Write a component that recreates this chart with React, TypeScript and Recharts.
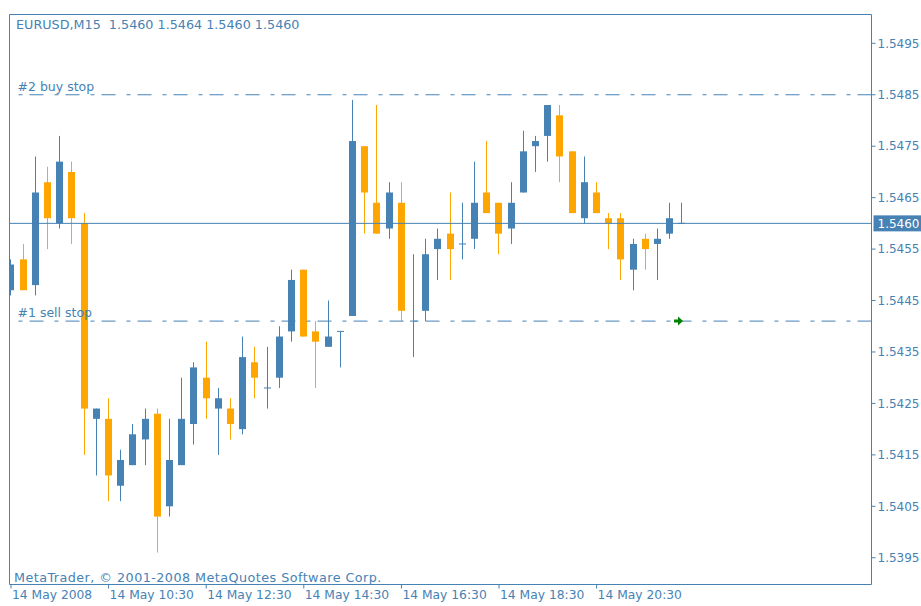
import React from 'react'
import {
  ComposedChart,
  Bar,
  XAxis,
  YAxis,
  ReferenceLine,
  ReferenceArea,
  ReferenceDot,
} from 'recharts'

const BLUE = '#4682B4'
const ORANGE = '#FFA500'
const FONT = '"DejaVu Sans", Verdana, sans-serif'

// EURUSD M15, 14 May 2008, 08:30 .. 22:15
const opens = [
  1.5447, 1.5453, 1.5448, 1.5468, 1.546, 1.547, 1.546, 1.5422, 1.5422, 1.5409,
  1.5413, 1.5418, 1.5423, 1.5405, 1.5413, 1.5421, 1.543, 1.5424, 1.5424, 1.542,
  1.5433, 1.5428, 1.543, 1.5439, 1.5451, 1.5439, 1.5436, 1.5439, 1.5442, 1.5475,
  1.5464, 1.5459, 1.5464, 1.5441, 1.5443, 1.5455, 1.5458, 1.5456, 1.5457, 1.5466,
  1.5464, 1.5459, 1.5466, 1.5475, 1.5477, 1.5481, 1.5474, 1.5461, 1.5466, 1.5461,
  1.5461, 1.5451, 1.5457, 1.5456, 1.5458, 1.546,
]
const highs = [
  1.5453, 1.5456, 1.5473, 1.5471, 1.5477, 1.5472, 1.5462, 1.5424, 1.5426, 1.5416,
  1.5421, 1.5424, 1.5424, 1.5422, 1.543, 1.5433, 1.5437, 1.5428, 1.5426, 1.5438,
  1.5436, 1.5436, 1.544, 1.5451, 1.5451, 1.5441, 1.5445, 1.5439, 1.5484, 1.5475,
  1.5483, 1.5468, 1.5468, 1.5454, 1.5457, 1.5459, 1.5466, 1.5464, 1.5472, 1.5476,
  1.5464, 1.5468, 1.5478, 1.5477, 1.5483, 1.5483, 1.5474, 1.5473, 1.5468, 1.5462,
  1.5462, 1.5457, 1.5458, 1.5459, 1.5464, 1.5464,
]
const lows = [
  1.5446, 1.5447, 1.5446, 1.5455, 1.5459, 1.5456, 1.5415, 1.5411, 1.5406, 1.5406,
  1.5413, 1.5413, 1.5396, 1.5403, 1.5413, 1.5417, 1.5422, 1.5415, 1.5418, 1.5419,
  1.5426, 1.5424, 1.5428, 1.5437, 1.5438, 1.5428, 1.5436, 1.5432, 1.5442, 1.5458,
  1.5458, 1.5457, 1.5441, 1.5434, 1.5441, 1.5449, 1.5449, 1.5453, 1.5455, 1.5462,
  1.5454, 1.5456, 1.5466, 1.547, 1.5472, 1.5468, 1.5462, 1.546, 1.5462, 1.5455,
  1.5449, 1.5447, 1.5451, 1.5449, 1.5457, 1.546,
]
const closes = [
  1.5452, 1.5447, 1.5466, 1.5461, 1.5472, 1.5461, 1.5424, 1.5424, 1.5411, 1.5414,
  1.5419, 1.5422, 1.5403, 1.5414, 1.5422, 1.5432, 1.5426, 1.5426, 1.5421, 1.5434,
  1.543, 1.5428, 1.5438, 1.5449, 1.5438, 1.5437, 1.5438, 1.5439, 1.5476, 1.5466,
  1.5458, 1.5466, 1.5443, 1.5441, 1.5454, 1.5457, 1.5455, 1.5456, 1.5464, 1.5462,
  1.5458, 1.5464, 1.5474, 1.5476, 1.5483, 1.5473, 1.5462, 1.5468, 1.5462, 1.546,
  1.5453, 1.5456, 1.5455, 1.5457, 1.5461, 1.546,
]

const timeTicks = [0, 8, 16, 24, 32, 40, 48]
const timeLabels = [
  '14 May 2008',
  '14 May 10:30',
  '14 May 12:30',
  '14 May 14:30',
  '14 May 16:30',
  '14 May 18:30',
  '14 May 20:30',
]
const priceTicks = [
  1.5395, 1.5405, 1.5415, 1.5425, 1.5435, 1.5445, 1.5455, 1.5465, 1.5475, 1.5485, 1.5495,
]

const currentPrice = 1.546
const buyStop = 1.5485
const sellStop = 1.5441
const lastBar = 55

const xDomain: [number, number] = [-0.123, 70.53]
const yDomain: [number, number] = [1.53898, 1.55006]

const data = opens.map((o, i) => ({
  i,
  open: o,
  high: highs[i],
  low: lows[i],
  close: closes[i],
  range: [lows[i], highs[i]],
}))

function Candle(props: any) {
  const { x, y, width, height, payload } = props
  if (x == null || payload == null) return null
  const top = Math.min(y, y + height)
  const h = Math.abs(height)
  const { open, close, high, low } = payload
  const py = (p: number) => top + ((high - p) / (high - low)) * h
  const cx = Math.floor(x + width / 2) + 0.5
  const color = close >= open ? BLUE : ORANGE
  const bTop = py(Math.max(open, close))
  const bBot = py(Math.min(open, close))
  return (
    <g>
      <line x1={cx} x2={cx} y1={top} y2={top + h} stroke={color} strokeWidth={1} />
      {bBot - bTop < 1 ? (
        <line x1={cx - 3.5} x2={cx + 3.5} y1={bTop} y2={bTop} stroke={color} strokeWidth={1} />
      ) : (
        <rect x={cx - 3.5} y={bTop} width={7} height={bBot - bTop} fill={color} />
      )}
    </g>
  )
}

function TimeTick(props: any) {
  const { x, y, payload } = props
  const idx = timeTicks.indexOf(payload.value)
  return (
    <text x={x + 1} y={y + 8} fill={BLUE} fontSize={12.3} fontFamily={FONT} textAnchor="start">
      {timeLabels[idx]}
    </text>
  )
}

const stopLabel = (text: string) => (props: any) => {
  const vb = props.viewBox
  if (!vb) return null
  return (
    <text x={vb.x + 8} y={vb.y - 4} fill={BLUE} fontSize={12.5} fontFamily={FONT}>
      {text}
    </text>
  )
}

const priceLabel = (props: any) => {
  const vb = props.viewBox
  if (!vb) return null
  return (
    <g>
      <rect x={vb.x + vb.width + 2} y={vb.y - 8} width={50} height={16} fill={BLUE} />
      <text
        x={vb.x + vb.width + 6}
        y={vb.y}
        dy="0.36em"
        fill="#ffffff"
        fontSize={12}
        fontFamily={FONT}
      >
        {currentPrice.toFixed(4)}
      </text>
    </g>
  )
}

const Arrow = (props: any) => {
  const { cx, cy } = props
  if (cx == null) return null
  const x = cx - 4
  return (
    <path
      d={`M${x - 4},${cy - 1.5} L${x},${cy - 1.5} L${x},${cy - 4.5} L${x + 5},${cy} L${x},${cy + 4.5} L${x},${cy + 1.5} L${x - 4},${cy + 1.5} Z`}
      fill="#008000"
    />
  )
}

export default function App() {
  return (
    <div style={{ position: 'absolute', left: 0, top: 0, width: 921, height: 606, background: '#fff' }}>
      <ComposedChart
        width={921}
        height={606}
        data={data}
        margin={{ top: 14.5, right: 0, left: 9.5, bottom: 0 }}
      >
        <XAxis
          dataKey="i"
          type="number"
          domain={xDomain}
          allowDataOverflow
          ticks={timeTicks}
          interval={0}
          height={21.5}
          axisLine={false}
          tickLine={{ stroke: BLUE }}
          tickSize={4}
          tick={<TimeTick />}
        />
        <YAxis
          orientation="right"
          type="number"
          domain={yDomain}
          allowDataOverflow
          ticks={priceTicks}
          interval={0}
          width={49.5}
          axisLine={false}
          tickLine={{ stroke: BLUE }}
          tickSize={4}
          tickMargin={2}
          tickFormatter={(v: number) => v.toFixed(4)}
          tick={{ fill: BLUE, fontSize: 12, fontFamily: FONT, textAnchor: 'start' }}
        />
        <ReferenceArea
          x1={xDomain[0]}
          x2={xDomain[1]}
          y1={yDomain[0]}
          y2={yDomain[1]}
          fill="none"
          fillOpacity={0}
          stroke={BLUE}
          strokeWidth={1}
          ifOverflow="visible"
        />
        <ReferenceLine
          y={buyStop}
          stroke={BLUE}
          strokeDasharray="14 7 4 11"
          label={stopLabel('#2 buy stop')}
        />
        <ReferenceLine
          y={sellStop}
          stroke={BLUE}
          strokeDasharray="14 7 4 11"
          label={stopLabel('#1 sell stop')}
        />
        <ReferenceLine y={currentPrice} stroke={BLUE} strokeWidth={1} label={priceLabel} />
        <Bar dataKey="range" barSize={8} shape={<Candle />} isAnimationActive={false} />
        <ReferenceDot x={lastBar} y={sellStop} r={4} shape={<Arrow />} ifOverflow="visible" />
      </ComposedChart>
      <div
        style={{
          position: 'absolute',
          left: 16,
          top: 18,
          fontFamily: FONT,
          fontSize: 12.75,
          lineHeight: '14px',
          color: BLUE,
          whiteSpace: 'pre',
        }}
      >
        {'EURUSD,M15  1.5460 1.5464 1.5460 1.5460'}
      </div>
      <div
        style={{
          position: 'absolute',
          left: 14,
          top: 571,
          fontFamily: FONT,
          fontSize: 12.75,
          letterSpacing: 0.45,
          lineHeight: '14px',
          color: BLUE,
          whiteSpace: 'pre',
        }}
      >
        {'MetaTrader, © 2001-2008 MetaQuotes Software Corp.'}
      </div>
    </div>
  )
}
